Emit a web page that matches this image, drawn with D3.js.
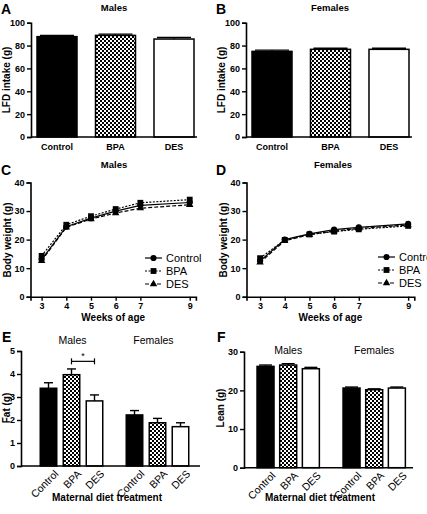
<!DOCTYPE html>
<html><head><meta charset="utf-8">
<script src="https://cdn.jsdelivr.net/npm/d3@7/dist/d3.min.js"></script>
<style>
body{margin:0;background:#fff;}
svg{display:block;font-family:"Liberation Sans",Arial,sans-serif;}
</style></head>
<body>
<svg id="chart" width="427" height="514"></svg>
<script>
// ---------- DATA ----------
const treatments = ["Control", "BPA", "DES"];
const sexes = ["Males", "Females"];
// Panel A/B: LFD intake (g)
const lfdMales = [87.8, 88.9, 85.7];
const lfdMalesSem = [1.0, 1.1, 1.3];
const lfdFemales = [74.9, 76.7, 76.7];
const lfdFemalesSem = [1.1, 0.9, 0.9];
// Panel C/D: body weight (g)
const weeks = [3, 4, 5, 6, 7, 9];
const weekTicks = [3, 4, 5, 6, 7, 9];
const bwMalesControl = [13.0, 24.5, 27.5, 30.0, 32.0, 33.0];
const bwMalesBPA = [14.3, 25.2, 28.2, 30.7, 32.9, 34.0];
const bwMalesDES = [12.6, 24.3, 27.2, 29.3, 31.0, 32.2];
const bwFemalesControl = [12.5, 20.0, 22.0, 23.5, 24.3, 25.5];
const bwFemalesBPA = [13.5, 19.9, 21.8, 22.8, 23.6, 24.8];
const bwFemalesDES = [12.0, 19.6, 21.7, 23.0, 23.9, 25.1];
// Panel E: fat (g)
const fatMales = [3.38, 3.97, 2.83];
const fatMalesSem = [0.24, 0.25, 0.26];
const fatFemales = [2.22, 1.88, 1.71];
const fatFemalesSem = [0.19, 0.19, 0.17];
// Panel F: lean (g)
const leanMales = [26.2, 26.55, 25.6];
const leanMalesSem = [0.35, 0.35, 0.35];
const leanFemales = [20.6, 20.17, 20.6];
const leanFemalesSem = [0.26, 0.23, 0.26];
const ticksLFD = [0, 20, 40, 60, 80, 100];
const ticksBW = [0, 10, 20, 30, 40];
const ticksFat = [0, 1, 2, 3, 4, 5];
const ticksLean = [0, 10, 20, 30];

// ---------- SETUP ----------
const svg = d3.select("#chart");
const defs = svg.append("defs");
const pat = defs.append("pattern").attr("id", "check").attr("patternUnits", "userSpaceOnUse")
  .attr("width", 4).attr("height", 4);
pat.append("rect").attr("width", 4).attr("height", 4).attr("fill", "#fff");
pat.append("rect").attr("width", 2).attr("height", 2).attr("fill", "#000");
pat.append("rect").attr("x", 2).attr("y", 2).attr("width", 2).attr("height", 2).attr("fill", "#000");
const fills = ["#000", "url(#check)", "#fff"];
const FONT = '"Liberation Sans",Arial,sans-serif';

function panelLetter(x, y, t) {
  svg.append("text").attr("x", x).attr("y", y).attr("font-size", 14).attr("font-weight", "bold").text(t);
}
function yAxis(g, y, ticks, x) {
  const ax = g.append("g").attr("transform", `translate(${x},0)`)
    .call(d3.axisLeft(y).tickValues(ticks).tickSize(4).tickPadding(2).tickFormat(d3.format("d")));
  ax.select(".domain").attr("stroke-width", 1.6);
  ax.selectAll(".tick line").attr("stroke-width", 1.4);
  ax.selectAll("text").attr("font-size", 9).attr("font-weight", "bold").attr("font-family", FONT);
  return ax;
}
function yTitle(x, yc, t) {
  svg.append("text").attr("transform", `translate(${x},${yc}) rotate(-90)`)
    .attr("text-anchor", "middle").attr("font-size", 10).attr("font-weight", "bold").text(t);
}
function errBar(g, cx, yTop, yErr, cap) {
  g.append("line").attr("x1", cx).attr("x2", cx).attr("y1", yTop).attr("y2", yErr).attr("stroke", "#000").attr("stroke-width", 1.4);
  g.append("line").attr("x1", cx - cap / 2).attr("x2", cx + cap / 2).attr("y1", yErr).attr("y2", yErr).attr("stroke", "#000").attr("stroke-width", 1.4);
}

// ---------- SIMPLE BAR PANELS (A, B) ----------
function simpleBar(o) {
  const g = svg.append("g");
  const y = d3.scaleLinear().domain([0, 100]).range([137, 22.7]);
  const x = d3.scaleBand().domain(treatments).range([o.r0, o.r0 + 157]).paddingInner(0.316).paddingOuter(0);
  treatments.forEach((t, i) => {
    const v = o.vals[i], e = o.sem[i];
    const cx = x(t) + x.bandwidth() / 2;
    errBar(g, cx, y(v), y(v + e), x.bandwidth() - 6);
    g.append("rect").attr("x", x(t)).attr("y", y(v)).attr("width", x.bandwidth()).attr("height", y(0) - y(v))
      .attr("fill", fills[i]).attr("stroke", "#000").attr("stroke-width", 1.5);
  });
  yAxis(g, y, ticksLFD, o.ax);
  const xa = g.append("g").attr("transform", `translate(0,${y(0)})`);
  xa.append("line").attr("x1", o.ax).attr("x2", o.axEnd).attr("stroke", "#000").attr("stroke-width", 1.6);
  treatments.forEach(t => {
    xa.append("text").attr("x", x(t) + x.bandwidth() / 2).attr("y", 12.5).attr("text-anchor", "middle")
      .attr("font-size", 9).attr("font-weight", "bold").text(t);
  });
  svg.append("text").attr("x", o.titleX).attr("y", 11).attr("text-anchor", "middle")
    .attr("font-size", 9.5).attr("font-weight", "bold").text(o.title);
  yTitle(o.ax - 21, 80, "LFD intake (g)");
}
simpleBar({ r0: 37, ax: 31, axEnd: 197, vals: lfdMales, sem: lfdMalesSem, title: "Males", titleX: 114 });
simpleBar({ r0: 252, ax: 246, axEnd: 412, vals: lfdFemales, sem: lfdFemalesSem, title: "Females", titleX: 330 });
panelLetter(1, 14, "A");
panelLetter(216, 14, "B");

// ---------- LINE PANELS (C, D) ----------
function linePanel(o) {
  const g = svg.append("g");
  const x = d3.scaleLinear().domain(o.dom).range(o.range);
  const y = d3.scaleLinear().domain([0, 40]).range([296.7, 182.5]);
  const series = [
    { name: "Control", vals: o.c, dash: null, sym: d3.symbolCircle, size: 30 },
    { name: "BPA", vals: o.b, dash: "2,1.5", sym: d3.symbolSquare, size: 34 },
    { name: "DES", vals: o.d, dash: "4,2", sym: d3.symbolTriangle, size: 24 }
  ];
  const line = d3.line().x((d, i) => x(weeks[i])).y(d => y(d));
  series.forEach(s => {
    g.append("path").datum(s.vals).attr("d", line).attr("fill", "none").attr("stroke", "#000")
      .attr("stroke-width", 1.2).attr("stroke-dasharray", s.dash);
    s.vals.forEach((v, i) => {
      g.append("path").attr("d", d3.symbol().type(s.sym).size(s.size)())
        .attr("transform", `translate(${x(weeks[i])},${y(v)})`).attr("fill", "#000");
    });
  });
  yAxis(g, y, ticksBW, o.range[0]);
  const xa = g.append("g").attr("transform", `translate(0,${y(0)})`)
    .call(d3.axisBottom(x).tickValues(weekTicks).tickSize(4).tickPadding(2).tickFormat(d3.format("d")));
  xa.select(".domain").attr("stroke-width", 1.6);
  xa.selectAll(".tick line").attr("stroke-width", 1.4);
  xa.selectAll("text").attr("font-size", 9).attr("font-weight", "bold").attr("font-family", FONT);
  svg.append("text").attr("x", (o.range[0] + o.range[1]) / 2).attr("y", 321).attr("text-anchor", "middle")
    .attr("font-size", 10).attr("font-weight", "bold").text("Weeks of age");
  svg.append("text").attr("x", o.titleX).attr("y", 168).attr("text-anchor", "middle")
    .attr("font-size", 9.5).attr("font-weight", "bold").text(o.title);
  yTitle(o.range[0] - 20, 240, "Body weight (g)");
  // legend
  series.forEach((s, i) => {
    const ly = o.ly + i * 13;
    g.append("line").attr("x1", o.lx).attr("x2", o.lx + 17).attr("y1", ly).attr("y2", ly)
      .attr("stroke", "#000").attr("stroke-width", 1.2).attr("stroke-dasharray", s.dash);
    g.append("path").attr("d", d3.symbol().type(s.sym).size(s.size)())
      .attr("transform", `translate(${o.lx + 8.5},${ly})`).attr("fill", "#000");
    g.append("text").attr("x", o.lx + 21).attr("y", ly + 4).attr("font-size", 11).text(s.name);
  });
}
linePanel({ dom: [2.55, 9.25], range: [30.5, 195.9], c: bwMalesControl, b: bwMalesBPA, d: bwMalesDES, title: "Males", titleX: 114, lx: 145, ly: 258 });
linePanel({ dom: [2.45, 9.25], range: [246.5, 414.3], c: bwFemalesControl, b: bwFemalesBPA, d: bwFemalesDES, title: "Females", titleX: 333, lx: 378, ly: 257 });
panelLetter(1, 175, "C");
panelLetter(216, 175, "D");

// ---------- GROUPED BAR PANELS (E, F) ----------
function groupPanel(o) {
  const g = svg.append("g");
  const y = d3.scaleLinear().domain(o.domain).range([o.y0, o.yTop]);
  const outer = d3.scaleBand().domain(sexes).range([o.r0, o.r0 + o.step + o.bw]).paddingInner(1 - o.bw / o.step).paddingOuter(0);
  const inner = d3.scaleBand().domain(treatments).range([0, outer.bandwidth()]).paddingInner(o.pin).paddingOuter(o.pin / 2);
  const data = [[o.m, o.ms], [o.f, o.fs]];
  sexes.forEach((s, si) => {
    treatments.forEach((t, i) => {
      const v = data[si][0][i], e = data[si][1][i];
      const bx = outer(s) + inner(t);
      const cx = bx + inner.bandwidth() / 2;
      errBar(g, cx, y(v), y(v + e), o.cap);
      g.append("rect").attr("x", bx).attr("y", y(v)).attr("width", inner.bandwidth()).attr("height", y(0) - y(v))
        .attr("fill", fills[i]).attr("stroke", "#000").attr("stroke-width", 1.5);
      g.append("text").attr("transform", `translate(${cx + 5},${y(0) + 3}) rotate(-45)`)
        .attr("text-anchor", "end").attr("dy", "0.75em").attr("font-size", 10.5).text(t);
    });
    svg.append("text").attr("x", outer(s) + outer.bandwidth() / 2 + o.gdx[si]).attr("y", o.gy).attr("text-anchor", "middle")
      .attr("font-size", 10.5).text(s);
  });
  yAxis(g, y, o.ticks, o.ax);
  g.append("line").attr("x1", o.ax).attr("x2", o.axEnd).attr("y1", y(0)).attr("y2", y(0)).attr("stroke", "#000").attr("stroke-width", 1.6);
  svg.append("text").attr("x", o.tx).attr("y", 501).attr("text-anchor", "middle")
    .attr("font-size", 10).attr("font-weight", "bold").text("Maternal diet treatment");
  yTitle(o.ytx, 408, o.ytitle);
  return { g, y, outer, inner };
}
const E = groupPanel({ domain: [0, 5], y0: 466, yTop: 351, r0: 37, step: 86, bw: 69, pin: 0.283, cap: 9,
  m: fatMales, ms: fatMalesSem, f: fatFemales, fs: fatFemalesSem, ticks: ticksFat, ax: 21, axEnd: 200,
  gy: 344, gdx: [1, -4], ytitle: "Fat (g)", ytx: 10, tx: 107 });
groupPanel({ domain: [0, 30], y0: 467.7, yTop: 351.7, r0: 254.2, step: 86, bw: 68, pin: 0.25, cap: 13,
  m: leanMales, ms: leanMalesSem, f: leanFemales, fs: leanFemalesSem, ticks: ticksLean, ax: 244, axEnd: 413,
  gy: 354, gdx: [0, 0], ytitle: "Lean (g)", ytx: 224, tx: 320 });
// significance bracket BPA vs DES (males)
{
  const cxB = E.outer("Males") + E.inner("BPA") + E.inner.bandwidth() / 2;
  const cxD = E.outer("Males") + E.inner("DES") + E.inner.bandwidth() / 2;
  const by = E.y(4.55);
  const gg = E.g;
  gg.append("line").attr("x1", cxB).attr("x2", cxD).attr("y1", by).attr("y2", by).attr("stroke", "#000").attr("stroke-width", 1.2);
  gg.append("line").attr("x1", cxB).attr("x2", cxB).attr("y1", by - 3).attr("y2", by + 3).attr("stroke", "#000").attr("stroke-width", 1.2);
  gg.append("line").attr("x1", cxD).attr("x2", cxD).attr("y1", by - 3).attr("y2", by + 3).attr("stroke", "#000").attr("stroke-width", 1.2);
  gg.append("text").attr("x", (cxB + cxD) / 2).attr("y", by - 2).attr("text-anchor", "middle").attr("font-size", 9).text("*");
}
panelLetter(2, 342, "E");
panelLetter(217, 342, "F");
</script>
</body></html>
